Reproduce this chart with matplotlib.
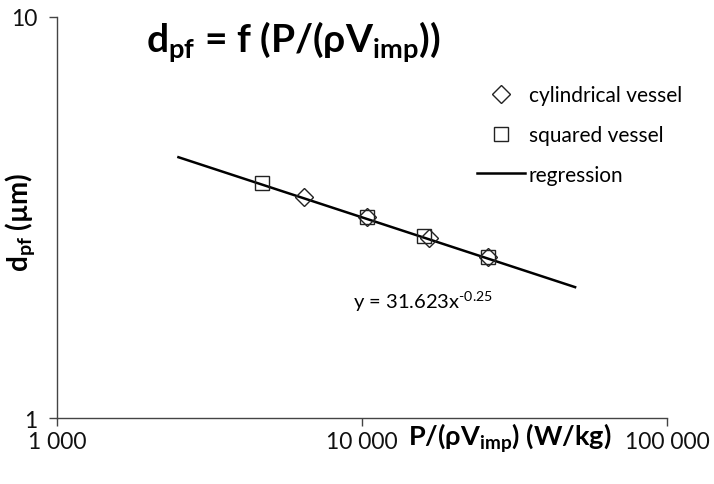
import matplotlib
matplotlib.use("Agg")
from matplotlib import pyplot as plt
from matplotlib.ticker import FixedLocator, FixedFormatter, NullLocator

# data
cyl_x = [6460, 10400, 16600, 25900]
cyl_y = [3.56, 3.17, 2.81, 2.52]
sq_x = [4700, 10400, 15960, 25900]
sq_y = [3.85, 3.17, 2.84, 2.52]
reg_x = [2500, 50000]
reg_y = [4.47, 2.12]

x_ticks = [1000, 10000, 100000]
x_labels = ["1 000", "10 000", "100 000"]
y_ticks = [1, 10]
y_labels = ["1", "10"]

plt.rcParams['font.family'] = ['Lato', 'DejaVu Sans']
plt.rcParams['mathtext.fontset'] = 'custom'
plt.rcParams['mathtext.rm'] = 'Lato'
plt.rcParams['mathtext.it'] = 'Lato:italic'
plt.rcParams['mathtext.bf'] = 'Lato:bold'

fig = plt.figure(figsize=(7.14, 4.85), dpi=100)
ax = fig.add_axes([0.080, 0.136, 0.854, 0.827])

ax.plot(cyl_x, cyl_y, linestyle='none', marker='D', markersize=9,
        markerfacecolor='none', markeredgecolor='#222222', markeredgewidth=1.0,
        label='cylindrical vessel', zorder=3)
ax.plot(sq_x, sq_y, linestyle='none', marker='s', markersize=10,
        markerfacecolor='none', markeredgecolor='#222222', markeredgewidth=1.0,
        label='squared vessel', zorder=3)
ax.plot(reg_x, reg_y, color='black', linewidth=1.8, label='regression', zorder=2)

ax.set_xscale('log')
ax.set_yscale('log')
ax.set_xlim(1000, 100000)
ax.set_ylim(1, 10)

ax.xaxis.set_major_locator(FixedLocator(x_ticks))
ax.xaxis.set_major_formatter(FixedFormatter(x_labels))
ax.xaxis.set_minor_locator(NullLocator())
ax.yaxis.set_major_locator(FixedLocator(y_ticks))
ax.yaxis.set_major_formatter(FixedFormatter(y_labels))
ax.yaxis.set_minor_locator(NullLocator())

for s in ['top', 'right']:
    ax.spines[s].set_visible(False)
for s in ['left', 'bottom']:
    ax.spines[s].set_color('#444444')
    ax.spines[s].set_linewidth(1.0)
ax.tick_params(direction='out', length=6, width=1.0, color='#444444',
               labelsize=16.5, labelcolor='#111111')
ax.tick_params(axis='x', pad=3)
ax.tick_params(axis='y', pad=8)

fig.text(0.028, 0.542, 'd$_{\\mathbf{pf}}$ (µm)', rotation=90, fontsize=20,
         fontweight='bold', ha='center', va='center')
fig.text(0.572, 0.097, 'P/(ρV$_{\\mathbf{imp}}$) (W/kg)',
         fontsize=19.5, fontweight='bold', ha='left', va='center')

fig.text(0.205, 0.915, 'd$_{\\mathbf{pf}}$ = f (P/(ρV$_{\\mathbf{imp}}$))',
         fontsize=28, fontweight='bold', ha='left', va='center')

ax.text(9330, 1.96, 'y = 31.623x$^{\\text{-0.25}}$', fontsize=14.5, ha='left', va='center')

leg = ax.legend(loc='upper left', bbox_to_anchor=(0.688, 0.83), frameon=False,
                fontsize=15, labelspacing=0.95, handlelength=2.3, handletextpad=0.2,
                borderaxespad=0, borderpad=0)

fig.savefig('out.png', dpi=100)
